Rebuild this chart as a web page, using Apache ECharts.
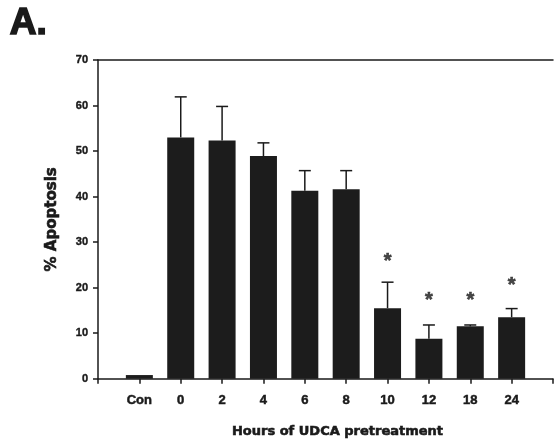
<!DOCTYPE html>
<html><head><meta charset="utf-8">
<script src="https://cdn.jsdelivr.net/npm/echarts@6/dist/echarts.min.js"></script>
<style>html,body{margin:0;padding:0;background:#fff}#c{width:556px;height:443px}</style>
</head><body><div id="c"></div>
<script>
var categories = ['', 'Con', '0', '2', '4', '6', '8', '10', '12', '18', '24', ''];
var meanApoptosis = [null, 0.8, 53.0, 52.3, 48.9, 41.3, 41.6, 15.5, 8.8, 11.5, 13.5, null];
var errorUpper = [null, 0.8, 61.9, 59.8, 51.8, 45.7, 45.7, 21.2, 11.8, 11.8, 15.4, null];
var significance = [null, null, null, null, null, null, null, 26.6, 18.0, 18.0, 21.4, null];
var yTicks = [0, 10, 20, 30, 40, 50, 60, 70];

var chart = echarts.init(document.getElementById('c'), null, {renderer: 'canvas'});
var FONT = '"Liberation Sans", Arial, sans-serif';
var WIDE = '"DejaVu Sans", sans-serif';
var INK = '#1a1a1a';
chart.setOption({
  animation: false,
  backgroundColor: '#fff',
  graphic: [{type: 'text', left: 9, top: 4, style: {text: 'A.', font: 'bold 37px ' + FONT, fill: INK, stroke: INK, lineWidth: 1.6}}],
  grid: {left: 98, right: 0, top: 60, bottom: 62, containLabel: false},
  xAxis: [{
    type: 'category', data: categories, boundaryGap: false,
    axisLine: {lineStyle: {color: INK, width: 1.5}},
    axisTick: {length: 5, lineStyle: {color: INK, width: 1.5}, interval: 0},
    axisLabel: {color: INK, fontFamily: FONT, fontWeight: 'bold', fontSize: 13, margin: 15, interval: 0,
      textBorderColor: INK, textBorderWidth: 0.5},
    name: 'Hours of UDCA pretreatment', nameLocation: 'middle', nameGap: 46,
    nameTextStyle: {color: INK, fontFamily: WIDE, fontWeight: 'bold', fontSize: 13, padding: [0, 0, 0, 24],
      textBorderColor: INK, textBorderWidth: 0.6}
  }, {
    type: 'category', data: categories, boundaryGap: false, position: 'top',
    axisLine: {lineStyle: {color: INK, width: 1.5}}, axisTick: {show: false}, axisLabel: {show: false}
  }],
  yAxis: {
    type: 'value', min: 0, max: 70, interval: 10,
    splitLine: {show: false},
    axisLine: {show: true, lineStyle: {color: INK, width: 1.5}},
    axisTick: {show: true, length: 5, lineStyle: {color: INK, width: 1.5}},
    axisLabel: {color: INK, fontFamily: FONT, fontWeight: 'bold', fontSize: 11, margin: 10,
      textBorderColor: INK, textBorderWidth: 0.4,
      formatter: function (v) { return yTicks.indexOf(v) >= 0 ? String(v) : ''; }},
    name: '% Apoptosis', nameLocation: 'middle', nameGap: 38,
    nameTextStyle: {color: INK, fontFamily: WIDE, fontWeight: 'bold', fontSize: 15,
      textBorderColor: INK, textBorderWidth: 0.6}
  },
  series: [{
    type: 'bar', data: meanApoptosis, barWidth: 27,
    itemStyle: {color: '#1c1c1c'}
  }, {
    type: 'custom',
    renderItem: function (params, api) {
      var i = api.value(0), m = api.value(1), u = api.value(2);
      if (m == null || isNaN(m) || u <= m) return null;
      var p0 = api.coord([i, m]), p1 = api.coord([i, u]);
      var st = {stroke: INK, lineWidth: 1.5};
      return {type: 'group', children: [
        {type: 'line', shape: {x1: p0[0], y1: p0[1], x2: p1[0], y2: p1[1]}, style: st},
        {type: 'line', shape: {x1: p1[0] - 6, y1: p1[1], x2: p1[0] + 6, y2: p1[1]}, style: st}
      ]};
    },
    data: categories.map(function (c, i) { return [i, meanApoptosis[i], errorUpper[i]]; }),
    z: 3
  }, {
    type: 'scatter', data: significance, symbolSize: 0,
    label: {show: true, position: 'inside', formatter: '*', color: INK,
      fontFamily: FONT, fontWeight: 'bold', fontSize: 20, offset: [0, 4],
      textBorderColor: INK, textBorderWidth: 0.6}
  }]
});
</script></body></html>
